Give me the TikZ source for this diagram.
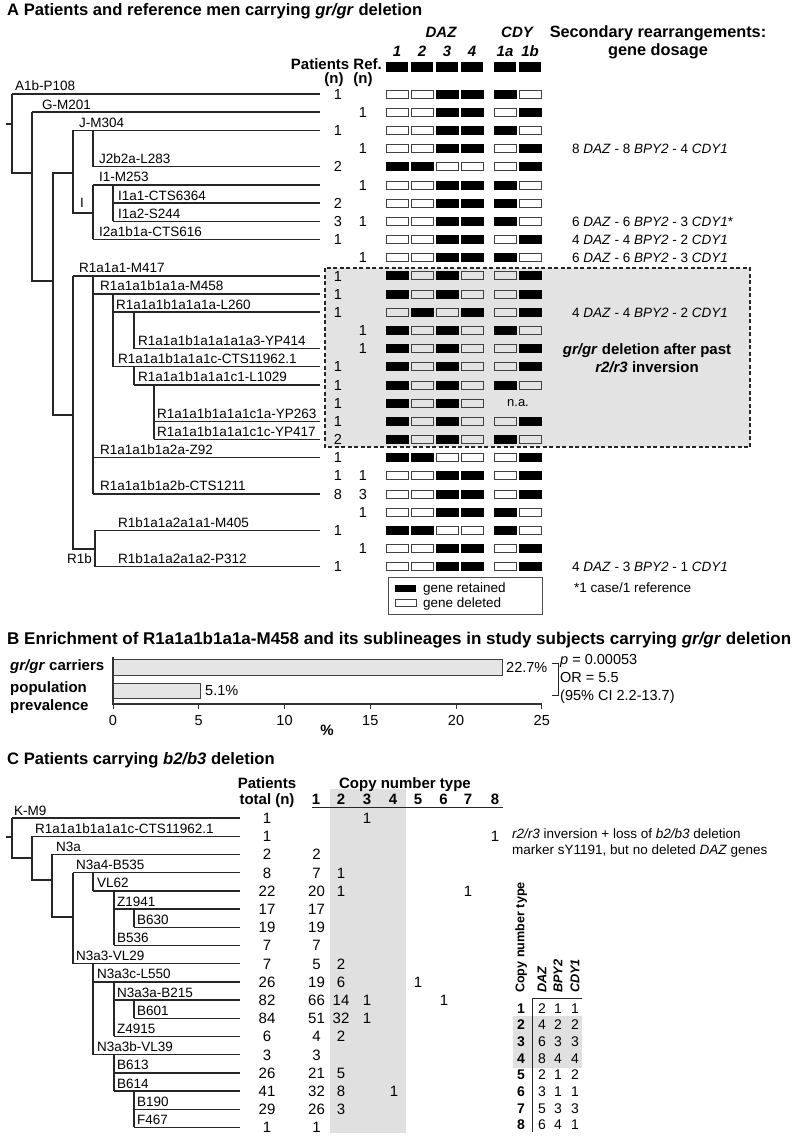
\documentclass[tikz,border=0pt]{standalone}
\usepackage{fontspec}
\setmainfont{Liberation Sans}
\newcommand\fsz[1]{\fontsize{#1}{#1}\selectfont}
\begin{document}
\begin{tikzpicture}[x=1pt,y=-1pt,
  tl/.style={draw=black!85,line width=1.4pt},
  lab/.style={anchor=base west,inner sep=0pt,font=\fsz{13.5}},
  num/.style={anchor=base,inner sep=0pt,font=\fsz{14.5}},
  cnum/.style={anchor=base,inner sep=0pt,font=\fsz{15}},
  txt/.style={anchor=base west,inner sep=0pt,font=\fsz{13.5}},
  hdr/.style={anchor=base,inner sep=0pt,font=\bfseries\fsz{15}},
  hdi/.style={anchor=base,inner sep=0pt,font=\bfseries\itshape\fsz{15}},
  ttl/.style={anchor=base west,inner sep=0pt,font=\bfseries\fsz{16.6}},
  g0/.style={draw=black!75,line width=0.7pt},
  g1/.style={fill=black,draw=black,line width=0.7pt},
  g2/.style={},
]
\useasboundingbox (0,0) rectangle (797,1142);
\fill[white] (0,0) rectangle (797,1142);

% ================= PANEL A =================
\node[ttl] (tA) at (7,15.5) {A Patients and reference men carrying \textit{gr/gr} deletion};

% dashed highlight
\filldraw[fill=black!11,draw=black!85,line width=1.2pt,dash pattern=on 4pt off 2.5pt] (325,268) rectangle (750,447);

% headers
\node[hdi] (hDAZ) at (441,38) {DAZ};
\node[hdi] (hCDY) at (517,38) {CDY};
\foreach \xx/\t in {397/1,422/2,447/3,472/4,505/1a,530/1b}
  \node[hdi] (hc\t) at (\xx,57) {\t};
\node[hdr,font=\bfseries\fsz{16.3}] (hSec) at (658,37.5) {Secondary rearrangements:};
\node[hdr,font=\bfseries\fsz{16.3}] (hDos) at (658,56) {gene dosage};
\node[hdr,anchor=base east] (hPat) at (382,70) {Patients Ref.};
\node[hdr] (hn1) at (334,83.5) {(n)};
\node[hdr] (hn2) at (363,83.5) {(n)};
\foreach \xx in {386,411,436,461,494,519}
  \fill (\xx,62) rectangle ++(22,10);

% tree lines A
\newcommand\lineA[4]{%
  \pgfmathsetmacro\yy{94+18.18*#2}
  \draw[tl] (#1,\yy) -- (320,\yy);
  \node[lab] (la#2) at (#4,\yy-3) {#3};}
\lineA{12}{0}{A1b-P108}{15}
\lineA{32}{1}{G-M201}{42}
\lineA{73}{2}{J-M304}{79}
\lineA{93}{4}{J2b2a-L283}{99}
\lineA{93}{5}{I1-M253}{99}
\lineA{113}{6}{I1a1-CTS6364}{118}
\lineA{113}{7}{I1a2-S244}{118}
\lineA{93}{8}{I2a1b1a-CTS616}{99}
\lineA{73}{10}{R1a1a1-M417}{79}
\lineA{93}{11}{R1a1a1b1a1a-M458}{100}
\lineA{113}{12}{R1a1a1b1a1a1a-L260}{116}
\lineA{134}{14}{R1a1a1b1a1a1a1a3-YP414}{138}
\lineA{113}{15}{R1a1a1b1a1a1c-CTS11962.1}{118}
\lineA{134}{16}{R1a1a1b1a1a1c1-L1029}{138}
\lineA{154}{18}{R1a1a1b1a1a1c1a-YP263}{157}
\lineA{154}{19}{R1a1a1b1a1a1c1c-YP417}{157}
\lineA{93}{20}{R1a1a1b1a2a-Z92}{100}
\lineA{93}{22}{R1a1a1b1a2b-CTS1211}{100}
\lineA{95}{24}{R1b1a1a2a1a1-M405}{118}
\lineA{95}{26}{R1b1a1a2a1a2-P312}{118}

\draw[tl] (6,124) -- (12,124);
\draw[tl] (12,94) -- (12,173) -- (32,173);
\draw[tl] (32,112.18) -- (32,281) -- (53,281);
\draw[tl] (73,173) -- (53,173) -- (53,415) -- (73,415);
\draw[tl] (73,130.36) -- (73,213) -- (93,213);
\draw[tl] (93,130.36) -- (93,166.72);
\draw[tl] (93,184.9) -- (93,239.44);
\draw[tl] (113,184.9) -- (113,221.26);
\draw[tl] (73,275.8) -- (73,549) -- (95,549);
\draw[tl] (93,275.8) -- (93,493.96);
\draw[tl] (113,293.98) -- (113,366.7);
\draw[tl] (134,312.16) -- (134,348.52);
\draw[tl] (134,366.7) -- (134,384.88);
\draw[tl] (154,384.88) -- (154,439.42);
\draw[tl] (95,530.32) -- (95,566.68);
\node[font=\fsz{13.5},inner sep=0pt] (lI) at (82,203) {I};
\node[lab,anchor=base east] (lR1b) at (92,563) {R1b};

% numbers A
\foreach \r/\v in {0/1,2/1,4/2,6/2,7/3,8/1,10/1,11/1,12/1,15/1,16/1,17/1,18/1,19/2,20/1,21/1,22/8,24/1,26/1}{
  \pgfmathsetmacro\yy{94+18.18*\r}
  \node[num] (pa\r) at (338,\yy+5.2) {\v};}
\foreach \r/\v in {1/1,3/1,5/1,7/1,9/1,13/1,14/1,21/1,22/3,23/1,25/1}{
  \pgfmathsetmacro\yy{94+18.18*\r}
  \node[num] (rf\r) at (363,\yy+5.2) {\v};}

% gene boxes
\foreach \r/\a/\b/\c/\d/\e/\f in {
 0/0/0/1/1/1/0, 1/0/0/1/1/0/1, 2/0/0/1/1/1/0, 3/0/0/1/1/0/1,
 4/1/1/0/0/0/1, 5/0/0/1/1/1/0, 6/0/0/1/1/1/0, 7/0/0/1/1/1/0,
 8/0/0/1/1/0/1, 9/0/0/1/1/1/0, 10/1/0/1/0/0/1, 11/1/0/1/0/0/1,
 12/0/1/0/1/0/1, 13/1/0/1/0/1/0, 14/1/0/1/0/0/1, 15/1/0/1/0/0/1,
 16/1/0/1/0/1/0, 17/1/0/1/0/2/2, 18/1/0/1/0/0/1, 19/1/0/1/0/1/0,
 20/1/1/0/0/0/1, 21/0/0/1/1/0/1, 22/0/0/1/1/0/1, 23/0/0/1/1/1/0,
 24/1/1/0/0/1/0, 25/0/0/1/1/0/1, 26/0/0/1/1/0/1}{
  \pgfmathsetmacro\yy{94+18.18*\r}
  \foreach \xx/\v in {386/\a,411/\b,436/\c,461/\d,494/\e,519/\f}
    \path[g\v] (\xx,\yy-4) rectangle ++(22,8);
}
\node[font=\fsz{13},inner sep=0pt] (na) at (518,403) {n.a.};

% secondary rearrangements
\node[txt] (s3) at (572,153.3) {8 \textit{DAZ} - 8 \textit{BPY2} - 4 \textit{CDY1}};
\node[txt] (s7) at (572,226.1) {6 \textit{DAZ} - 6 \textit{BPY2} - 3 \textit{CDY1}*};
\node[txt] (s8) at (572,244.3) {4 \textit{DAZ} - 4 \textit{BPY2} - 2 \textit{CDY1}};
\node[txt] (s9) at (572,262.4) {6 \textit{DAZ} - 6 \textit{BPY2} - 3 \textit{CDY1}};
\node[txt] (s12) at (572,317) {4 \textit{DAZ} - 4 \textit{BPY2} - 2 \textit{CDY1}};
\node[txt] (s26) at (572,571.5) {4 \textit{DAZ} - 3 \textit{BPY2} - 1 \textit{CDY1}};
\node[hdr] (inv1) at (647,354.5) {\textit{gr/gr} deletion after past};
\node[hdr] (inv2) at (647,372.5) {\textit{r2/r3} inversion};

% legend
\draw[black!70,line width=0.8pt] (388,577) rectangle (542,614);
\fill (395,584.5) rectangle ++(21,7);
\draw[g0] (395,599.5) rectangle ++(21,7);
\node[txt] (lg1) at (423,592.8) {gene retained};
\node[txt] (lg2) at (423,607.8) {gene deleted};
\node[txt] (foot) at (574,592.8) {*1 case/1 reference};

% ================= PANEL B =================
\node[ttl,font=\bfseries\fsz{17}] (tB) at (7,644) {B Enrichment of R1a1a1b1a1a-M458 and its sublineages in study subjects carrying \textit{gr/gr} deletion};
\draw[black!75,line width=1pt,fill=black!10] (113,659) rectangle (502,675);
\draw[black!75,line width=1pt,fill=black!10] (113,683) rectangle (200.5,698);
\draw[black!80,line width=1.2pt] (113,657) -- (113,704) -- (541.75,704);
\foreach \t in {0,5,10,15,20,25}{
  \draw[black!80,line width=1pt] (113+17.15*\t,704) -- ++(0,5);
  \node[num] (tk\t) at (113+17.15*\t,725) {\t};}
\node[hdr] (pct) at (327,735.5) {\%};
\node[hdr,anchor=base west] (bl1) at (10,670.4) {\textit{gr/gr} carriers};
\node[hdr,anchor=base west] (bl2) at (10,692.6) {population};
\node[hdr,anchor=base west] (bl3) at (10,710.4) {prevalence};
\node[txt,font=\fsz{14.5}] (v1) at (506,672.4) {22.7\%};
\node[txt,font=\fsz{14.5}] (v2) at (205,695.4) {5.1\%};
\draw[black!85,line width=1pt] (552,663) -- (558,663) -- (558,695) -- (552,695);
\node[txt,font=\fsz{14.5}] (st1) at (560,664.4) {\textit{p} = 0.00053};
\node[txt,font=\fsz{14.5}] (st2) at (560,682.4) {OR = 5.5};
\node[txt,font=\fsz{14.5}] (st3) at (560,700.4) {(95\% CI 2.2-13.7)};

% ================= PANEL C =================
\node[ttl] (tC) at (7,764) {C Patients carrying \textit{b2/b3} deletion};
\fill[black!12] (330,789) rectangle (406,1133);
\node[hdr] (cP) at (267,788) {Patients};
\node[hdr] (cT) at (267,804) {total (n)};
\node[hdr] (cCN) at (405,788) {Copy number type};
\foreach \xx/\t in {316/1,341/2,367/3,393/4,418/5,443.5/6,468/7,495/8}
  \node[hdr] (ch\t) at (\xx,804) {\t};
\draw[black!85,line width=1pt] (312,807) -- (503,807);

\newcommand\lineC[4]{%
  \pgfmathsetmacro\yy{818+18.2*#2}
  \draw[tl] (#1,\yy) -- (240,\yy);
  \node[lab] (lc#2) at (#4,\yy-3) {#3};}
\lineC{12}{0}{K-M9}{14}
\lineC{32}{1}{R1a1a1b1a1a1c-CTS11962.1}{35}
\lineC{52}{2}{N3a}{56}
\lineC{73}{3}{N3a4-B535}{76}
\lineC{93}{4}{VL62}{97}
\lineC{114}{5}{Z1941}{117}
\lineC{134}{6}{B630}{137}
\lineC{114}{7}{B536}{117}
\lineC{73}{8}{N3a3-VL29}{76}
\lineC{93}{9}{N3a3c-L550}{97}
\lineC{114}{10}{N3a3a-B215}{117}
\lineC{134}{11}{B601}{137}
\lineC{114}{12}{Z4915}{117}
\lineC{93}{13}{N3a3b-VL39}{97}
\lineC{114}{14}{B613}{117}
\lineC{114}{15}{B614}{117}
\lineC{134}{16}{B190}{137}
\lineC{134}{17}{F467}{137}

\draw[tl] (6,837) -- (12,837);
\draw[tl] (12,818) -- (12,858) -- (32,858);
\draw[tl] (32,836.2) -- (32,880) -- (52,880);
\draw[tl] (52,854.4) -- (52,917) -- (73,917);
\draw[tl] (73,872.6) -- (73,963.6);
\draw[tl] (93,872.6) -- (93,890.8);
\draw[tl] (114,890.8) -- (114,945.4);
\draw[tl] (134,909) -- (134,927.2);
\draw[tl] (93,963.6) -- (93,1054.6);
\draw[tl] (114,981.8) -- (114,1036.4);
\draw[tl] (134,1000) -- (134,1018.2);
\draw[tl] (114,1054.6) -- (114,1091);
\draw[tl] (134,1091) -- (134,1127.4);

\foreach \j/\v in {0/1,1/1,2/2,3/8,4/22,5/17,6/19,7/7,8/7,9/26,10/82,11/84,12/6,13/3,14/26,15/41,16/29,17/1}{
  \pgfmathsetmacro\yy{818+18.2*\j}
  \node[cnum] (ct\j) at (267,\yy+5.4) {\v};}
\foreach \j/\xx/\v in {0/367/1,1/495/1,2/316.5/2,3/316.5/7,3/341/1,4/316.5/20,4/341/1,4/468/1,
  5/316.5/17,6/316.5/19,7/316.5/7,8/316.5/5,8/341/2,9/316.5/19,9/341/6,9/418/1,
  10/316.5/66,10/341/14,10/367/1,10/444/1,11/316.5/51,11/341/32,11/367/1,
  12/316.5/4,12/341/2,13/316.5/3,14/316.5/21,14/341/5,15/316.5/32,15/341/8,15/394/1,
  16/316.5/26,16/341/3,17/316.5/1}{
  \pgfmathsetmacro\yy{818+18.2*\j}
  \node[cnum] at (\xx,\yy+5.4) {\v};}

\node[txt] (cm1) at (512,838.8) {\textit{r2/r3} inversion + loss of \textit{b2/b3} deletion};
\node[txt] (cm2) at (512,854.8) {marker sY1191, but no deleted \textit{DAZ} genes};

% small table
\fill[black!12] (513,1016) rectangle (582,1068);
\node[rotate=90,anchor=west,inner sep=0pt,font=\bfseries\fsz{12.6}] (sCN) at (521,993) {Copy number type};
\node[rotate=90,anchor=west,inner sep=0pt,font=\bfseries\itshape\fsz{12.7}] (sD) at (542,993) {DAZ};
\node[rotate=90,anchor=west,inner sep=0pt,font=\bfseries\itshape\fsz{12.7}] (sB) at (558,993) {BPY2};
\node[rotate=90,anchor=west,inner sep=0pt,font=\bfseries\itshape\fsz{12.7}] (sC) at (575,993) {CDY1};
\draw[black!85,line width=1pt] (532,1132) -- (532,998) -- (582,998);
\foreach \k/\a/\b/\c in {1/2/1/1,2/4/2/2,3/6/3/3,4/8/4/4,5/2/1/2,6/3/1/1,7/5/3/3,8/6/4/1}{
  \pgfmathsetmacro\yy{1008+16.7*(\k-1)}
  \node[hdr,font=\bfseries\fsz{14}] (sk\k) at (521,\yy+5) {\k};
  \node[num,font=\fsz{14}] at (542,\yy+5) {\a};
  \node[num,font=\fsz{14}] at (558,\yy+5) {\b};
  \node[num,font=\fsz{14}] at (575,\yy+5) {\c};}
\end{tikzpicture}
\end{document}
